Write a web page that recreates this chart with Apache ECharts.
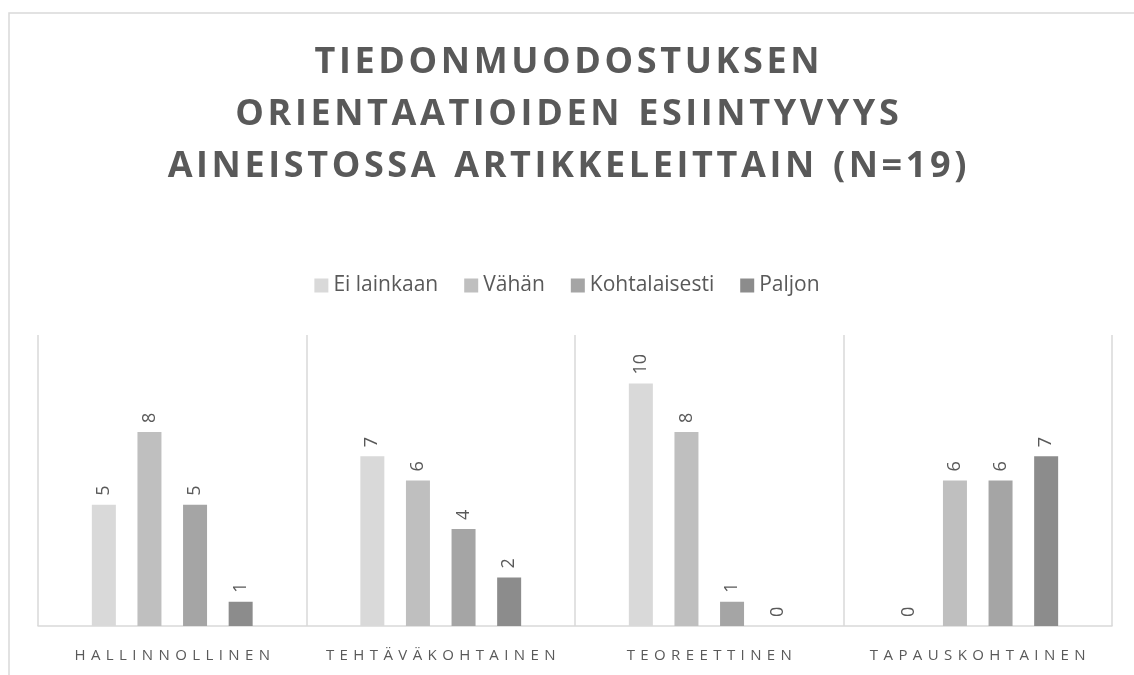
<!DOCTYPE html>
<html>
<head>
<meta charset="utf-8">
<script src="https://cdn.jsdelivr.net/npm/echarts@6/dist/echarts.min.js"></script>
<style>
    html, body { margin: 0; padding: 0; background: #fff; }
    #main { width: 1134px; height: 675px; }
</style>
</head>
<body>
<div id="main"></div>
<script>
// kategoriat ja sarjat
var categories = ['HALLINNOLLINEN', 'TEHTÄVÄKOHTAINEN', 'TEOREETTINEN', 'TAPAUSKOHTAINEN'];
var seriesNames = ['Ei lainkaan', 'Vähän', 'Kohtalaisesti', 'Paljon'];
var eiLainkaan = [5, 7, 10, 0];
var vahan = [8, 6, 8, 6];
var kohtalaisesti = [5, 4, 1, 6];
var paljon = [1, 2, 0, 7];
var titleLines = ['TIEDONMUODOSTUKSEN', 'ORIENTAATIOIDEN ESIINTYVYYS', 'AINEISTOSSA ARTIKKELEITTAIN (N=19)'];

var colors = ['#d9d9d9', '#bfbfbf', '#a5a5a5', '#8c8c8c'];
var textColor = '#595959';
var fontFamily = '"Open Sans", "Noto Sans", sans-serif';

// harvennettu teksti (letter spacing)
function spaced(str, sep) {
    return str.split(' ').map(function (w) {
        return w.split('').join(sep);
    }).join('  ');
}

function makeSeries(name, data, idx) {
    return {
        name: name,
        type: 'bar',
        data: data,
        barWidth: 24,
        barGap: '90%',
        itemStyle: { color: colors[idx] },
        label: {
            show: true,
            position: 'top',
            rotate: 90,
            align: 'left',
            verticalAlign: 'middle',
            distance: 9,
            color: textColor,
            fontFamily: fontFamily,
            fontSize: 18
        }
    };
}

function drawChart() {
    var myChart = echarts.init(document.getElementById('main'));

    var option = {
        backgroundColor: '#fff',
        animation: false,
        title: {
            text: titleLines.map(function (l) { return spaced(l, '\u200A'); }).join('\n'),
            left: 'center',
            top: 37,
            padding: 0,
            textStyle: {
                color: textColor,
                fontFamily: fontFamily,
                fontWeight: 'bold',
                fontSize: 36,
                lineHeight: 52
            }
        },
        legend: {
            data: seriesNames,
            top: 270,
            left: 'center',
            icon: 'rect',
            itemWidth: 14,
            itemHeight: 14,
            itemGap: 26,
            textStyle: {
                color: textColor,
                fontFamily: fontFamily,
                fontSize: 21
            }
        },
        graphic: [{
            type: 'rect',
            silent: true,
            shape: { x: 9, y: 13, width: 1140, height: 680 },
            style: { fill: 'none', stroke: '#d9d9d9', lineWidth: 1.5 }
        }],
        grid: {
            left: 38,
            right: 22,
            top: 335,
            bottom: 49
        },
        xAxis: {
            type: 'category',
            data: categories,
            axisLine: { lineStyle: { color: '#d9d9d9', width: 1.5 } },
            axisTick: { show: false, interval: 0 },
            splitLine: { show: true, interval: 0, lineStyle: { color: '#d9d9d9', width: 1.5 } },
            axisLabel: {
                interval: 0,
                color: textColor,
                fontFamily: fontFamily,
                fontSize: 15,
                margin: 22,
                formatter: function (v) { return spaced(v, ' \u200A'); }
            }
        },
        yAxis: {
            type: 'value',
            min: 0,
            max: 12,
            show: false,
            splitLine: { show: false }
        },
        series: [
            makeSeries(seriesNames[0], eiLainkaan, 0),
            makeSeries(seriesNames[1], vahan, 1),
            makeSeries(seriesNames[2], kohtalaisesti, 2),
            makeSeries(seriesNames[3], paljon, 3)
        ]
    };

    myChart.setOption(option);
}

drawChart();
</script>
</body>
</html>
